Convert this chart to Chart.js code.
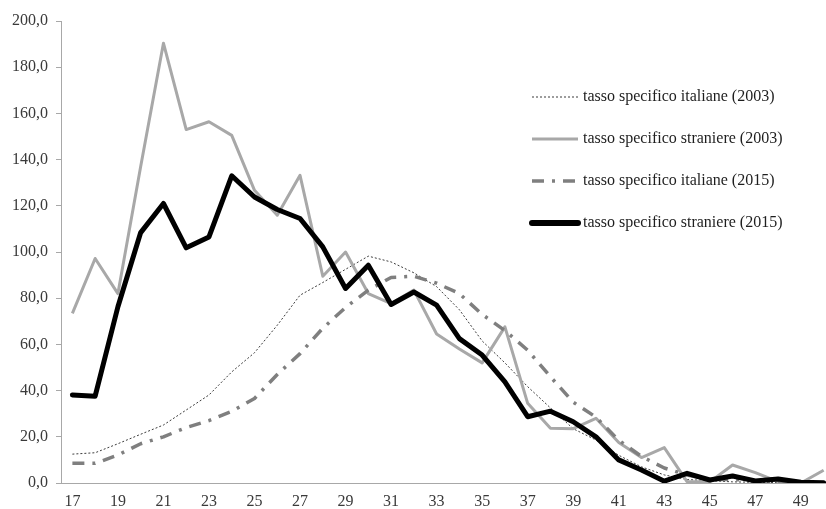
<!DOCTYPE html>
<html>
<head>
<meta charset="utf-8">
<script src="https://cdn.jsdelivr.net/npm/chart.js@4.4.1/dist/chart.umd.min.js"></script>
<style>
  html, body { margin: 0; padding: 0; background: #ffffff; overflow: hidden; }
  #wrap { width: 826px; height: 509px; }
</style>
</head>
<body>
<div id="wrap"><canvas id="c" width="826" height="509"></canvas></div>
<script>
// ---- data ----
const ages = [17, 18, 19, 20, 21, 22, 23, 24, 25, 26, 27, 28, 29, 30, 31, 32, 33,
              34, 35, 36, 37, 38, 39, 40, 41, 42, 43, 44, 45, 46, 47, 48, 49, 50];

const italiane2003 = [12.5, 13.1, 17.0, 21.1, 25.1, 31.6, 38.1, 48.1, 56.4, 68.3, 81.3, 86.8,
                      92.5, 98.2, 95.7, 91.0, 85.0, 75.0, 61.5, 52.0, 41.7, 32.5, 23.5, 18.6,
                      12.0, 7.0, 3.5, 1.5, 1.0, 0.5, 0.3, 0.2, 0.1, 0.0];

const straniere2003 = [73.4, 97.2, 82.0, 137.0, 190.4, 153.0, 156.4, 150.5, 126.7, 115.9, 133.2, 89.5,
                       100.0, 82.0, 77.7, 83.5, 64.5, 58.0, 52.0, 67.6, 34.5, 23.7, 23.5, 28.0,
                       17.5, 11.0, 15.3, 0.6, 0.5, 7.8, 4.5, 0.6, 0.0, 5.5];

const italiane2015 = [8.5, 8.5, 12.1, 17.0, 20.0, 24.0, 27.0, 31.0, 36.6, 47.0, 56.0, 67.0,
                      76.0, 83.5, 89.0, 89.5, 86.5, 82.0, 73.0, 66.0, 57.5, 46.0, 35.0, 28.5,
                      18.5, 11.5, 6.5, 3.5, 1.5, 1.5, 1.0, 0.5, 0.2, 0.1];

const straniere2015 = [38.1, 37.6, 76.3, 108.4, 121.0, 101.8, 106.5, 133.0, 123.8, 118.4, 114.5, 102.2,
                       84.2, 94.3, 77.3, 82.7, 77.0, 62.5, 55.4, 43.8, 28.7, 31.1, 26.5, 20.0,
                       10.0, 5.6, 0.8, 4.2, 1.3, 3.0, 0.9, 1.7, 0.3, 0.1];

const seriesLabels = ['tasso specifico italiane (2003)', 'tasso specifico straniere (2003)',
                      'tasso specifico italiane (2015)', 'tasso specifico straniere (2015)'];

const xTickLabels = [17, 19, 21, 23, 25, 27, 29, 31, 33, 35, 37, 39, 41, 43, 45, 47, 49];
const yMin = 0, yMax = 200, yStep = 20;

// ---- chart ----
const FONT = "'Liberation Serif', 'DejaVu Serif', serif";
const toPoints = vals => ages.map((a, i) => ({ x: a, y: vals[i] }));

const datasets = [
  { label: seriesLabels[0], data: toPoints(italiane2003), borderColor: '#3c3c3c', borderWidth: 1,
    borderDash: [2, 2], order: 3 },
  { label: seriesLabels[1], data: toPoints(straniere2003), borderColor: '#a8a8a8', borderWidth: 3,
    order: 2 },
  { label: seriesLabels[2], data: toPoints(italiane2015), borderColor: '#7f7f7f', borderWidth: 3.5,
    borderDash: [12, 8, 3, 8], order: 1 },
  { label: seriesLabels[3], data: toPoints(straniere2015), borderColor: '#000000', borderWidth: 5,
    order: 0, borderCapStyle: 'round' }
].map(d => Object.assign({ pointRadius: 0, pointHoverRadius: 0, tension: 0, fill: false,
                            borderJoinStyle: 'round' }, d));

const inlineLegend = {
  id: 'inlineLegend',
  afterDraw(chart) {
    const ctx = chart.ctx;
    const x0 = 532, x1 = 578, tx = 583, y0 = 97, dy = 42;
    ctx.save();
    chart.data.datasets.forEach((ds, i) => {
      const y = y0 + i * dy;
      ctx.beginPath();
      ctx.strokeStyle = ds.borderColor;
      ctx.lineWidth = i === 3 ? 6 : ds.borderWidth;
      ctx.lineCap = i === 3 ? 'round' : 'butt';
      ctx.setLineDash(ds.borderDash || []);
      ctx.moveTo(x0, y);
      ctx.lineTo(x1, y);
      ctx.stroke();
      ctx.setLineDash([]);
      ctx.fillStyle = '#1e1e1e';
      ctx.font = "16px " + FONT;
      ctx.textAlign = 'left';
      ctx.textBaseline = 'middle';
      ctx.fillText(ds.label, tx, y);
    });
    ctx.restore();
  }
};

new Chart(document.getElementById('c'), {
  type: 'line',
  data: { datasets },
  options: {
    responsive: false,
    animation: false,
    devicePixelRatio: 1,
    layout: { padding: { top: 21, left: 0, right: 0, bottom: 0 } },
    plugins: { legend: { display: false }, tooltip: { enabled: false } },
    scales: {
      x: {
        type: 'linear',
        min: 16.5,
        max: 16.5 + (826 - 61.5) / 22.75,
        afterBuildTicks: s => { s.ticks = xTickLabels.map(v => ({ value: v })); },
        afterFit: s => { s.height = 26; },
        grid: { display: false, drawTicks: false },
        border: { display: true, color: '#a8a8a8', width: 1 },
        ticks: { color: '#3a3a3a', font: { family: FONT, size: 16 }, padding: 9,
                 maxRotation: 0, autoSkip: false, callback: v => String(v) }
      },
      y: {
        min: yMin, max: yMax,
        afterFit: s => { s.width = 61; },
        grid: { display: true, drawOnChartArea: false, drawTicks: true, tickLength: 5,
                color: '#a8a8a8' },
        border: { display: true, color: '#a8a8a8', width: 1 },
        ticks: { stepSize: yStep, color: '#3a3a3a', font: { family: FONT, size: 16 }, padding: 8,
                 callback: v => v.toFixed(1).replace('.', ',') }
      }
    }
  },
  plugins: [inlineLegend]
});
</script>
</body>
</html>
